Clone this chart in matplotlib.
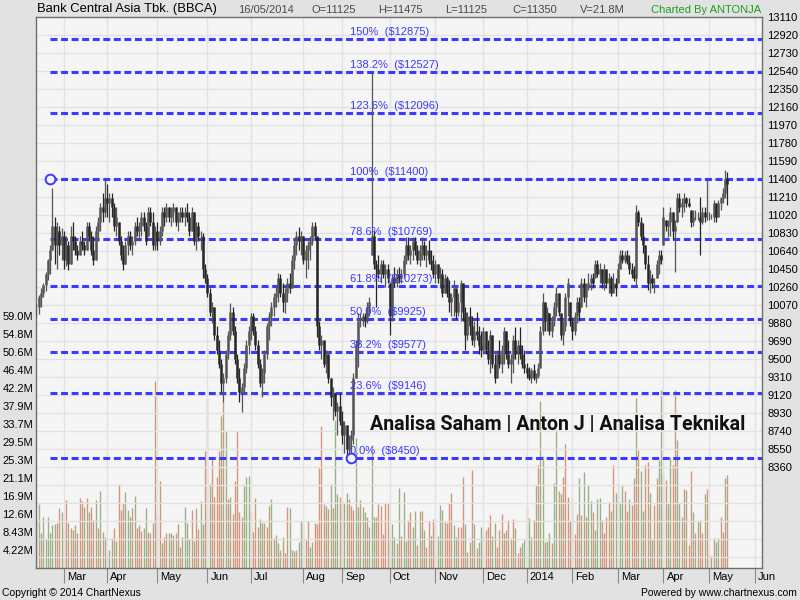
import numpy as np
import matplotlib.pyplot as plt

plt.rcParams['font.family'] = ['Liberation Sans', 'DejaVu Sans']
plt.rcParams['lines.scale_dashes'] = False

# daily bars, 13 Feb 2013 .. 16 May 2014 (trading-day index)
lows = [
    9950, 9980, 10050, 10150, 10220, 10330, 10400, 10650, 10500, 10450, 10600, 10550,
    10450, 10480, 10440, 10500, 10650, 10600, 10550, 10600, 10650, 10600, 10650, 10750, 10600, 10490, 10550, 10750, 10850, 10950, 11000,
    11000, 10950, 11000, 10850, 10800, 10700, 10550, 10440, 10500, 10600, 10650, 10600, 10700, 10800, 10750, 10800, 10850, 10700, 10800, 10900, 10650, 10650,
    10650, 10700, 10800, 10900, 10950, 10950, 10900, 10950, 10900, 10850, 10950, 10950, 10900, 10950, 10800, 10850, 10700, 10650, 10750, 10650, 10350, 10300,
    10150, 9950, 9880, 9700, 9550, 9400, 9150, 9050, 9250, 9500, 9700, 9750, 9450, 9250, 9050, 8940, 9150, 9350, 9550,
    9700, 9750, 9600, 9400, 9200, 9100, 9250, 9500, 9700, 9850, 9950, 10050, 10100, 10150, 10000, 9990, 10100, 10200, 10250, 10450, 10600, 10650, 10600,
    10500, 10350, 10450, 10550, 10700, 10760, 9730, 9600, 9500, 9420, 9350, 9250, 9000, 8855, 8900, 8700, 8800,
    8600, 8510, 8450, 8480, 8450, 8600, 9300, 9420, 9840, 9850, 9840, 9880, 9950, 10600, 10450, 10050, 10350, 10300, 10350, 10260, 10300,
    9750, 9900, 10260, 10260, 10300, 10300, 10350, 10500, 10550, 10500, 10550, 10600, 10500, 10480, 10550, 10550, 10470, 10500, 10440, 10350,
    10300, 10300, 10250, 10150, 10200, 10150, 10000, 9950, 9950, 9920, 9950, 9900, 9900, 9600, 9700, 9750, 9650, 9630, 9700, 9550, 9520,
    9550, 9550, 9450, 9350, 9400, 9250, 9300, 9400, 9350, 9450, 9500, 9400, 9250, 9350, 9500, 9450, 9500, 9400, 9350,
    9300, 9280, 9250, 9280, 9250, 9300, 9400, 9750, 9800, 9800, 9750, 9730, 9850, 9950, 9950, 9700, 9650, 9800, 9950, 9850,
    9700, 9750, 9880, 9900, 10050, 10100, 10050, 10230, 10230, 10250, 10350, 10365, 10300, 10250, 10230, 10250, 10200, 10160, 10200, 10160,
    10300, 10450, 10510, 10510, 10500, 10400, 10350, 10320, 10260, 10900, 10760, 10620, 10450, 10230, 10200, 10250, 10200, 10350, 10400, 10500,
    10700, 10850, 10790, 10800, 10760, 10420, 10950, 11050, 11000, 11050, 11100, 11100, 10890, 10900, 10970, 10970, 10600, 10930, 10950, 10970,
    10970, 10980, 10950, 10950, 11000, 11070, 11150, 11200, 11125,
]
highs = [
    10080, 10180, 10250, 10300, 10420, 10560, 10700, 11300, 11000, 10950, 10900, 10880,
    10850, 10800, 10750, 10900, 10950, 10800, 10700, 10800, 10850, 10750, 10950, 10950, 10850, 10800, 10900, 11000, 11150, 11250, 11400,
    11350, 11250, 11250, 11150, 11100, 10950, 10800, 10700, 10750, 10850, 10850, 10800, 10950, 11000, 10950, 11050, 11050, 10950, 11100, 11100, 11050, 10900,
    10950, 10900, 11100, 11100, 11150, 11100, 11100, 11150, 11100, 11050, 11100, 11100, 11100, 11150, 11050, 11100, 11050, 10950, 10950, 10850, 10830, 10500,
    10400, 10250, 10100, 10050, 9850, 9700, 9500, 9350, 9600, 9800, 10090, 10050, 9850, 9550, 9400, 9250, 9460, 9700, 9850,
    9990, 9990, 9850, 9700, 9500, 9400, 9600, 9880, 10000, 10100, 10200, 10260, 10410, 10400, 10300, 10250, 10350, 10410, 10600, 10760, 10850, 10895, 10850,
    10800, 10700, 10750, 10800, 10950, 10950, 10800, 9900, 9750, 9700, 9600, 9550, 9300, 9200, 9140, 9050, 9140,
    8950, 8850, 8800, 8700, 8750, 9350, 9700, 9985, 9985, 9985, 9990, 10100, 10150, 12527, 10850, 10550, 10600, 10550, 10550, 10500, 10500,
    10300, 10400, 10470, 10450, 10470, 10450, 10600, 10790, 10790, 10700, 10790, 10790, 10700, 10700, 10790, 10750, 10700, 10760, 10650, 10600,
    10550, 10500, 10470, 10450, 10400, 10380, 10330, 10200, 10330, 10250, 10200, 10330, 10300, 10050, 10000, 10050, 9950, 9900, 10000, 9850, 9800,
    9840, 9800, 9700, 9810, 9750, 9550, 9600, 9700, 9650, 9840, 9800, 9700, 9550, 9750, 9840, 9700, 9840, 9650, 9600,
    9460, 9420, 9400, 9450, 9350, 9460, 9850, 10200, 10100, 10050, 9990, 9950, 10100, 10260, 10200, 9990, 9900, 10200, 10360, 10100,
    9940, 10000, 10150, 10150, 10360, 10360, 10300, 10410, 10400, 10410, 10550, 10545, 10510, 10450, 10500, 10450, 10410, 10380, 10410, 10350,
    10510, 10650, 10650, 10640, 10650, 10600, 10510, 10480, 11125, 11070, 11000, 10940, 10700, 10600, 10440, 10400, 10350, 10550, 10650, 10650,
    11100, 10970, 10970, 11100, 11050, 10970, 11250, 11250, 11200, 11250, 11210, 11200, 11070, 11070, 11070, 11050, 11210, 11100, 11100, 11390,
    11050, 11030, 11180, 11150, 11180, 11210, 11300, 11495, 11475,
]
closes = [
    10050, 10150, 10200, 10280, 10400, 10540, 10650, 10900, 10700, 10850, 10700, 10800,
    10550, 10700, 10500, 10800, 10750, 10650, 10600, 10750, 10700, 10650, 10900, 10800, 10650, 10550, 10850, 10950, 11100, 11050, 11200,
    11150, 11200, 11100, 10900, 11000, 10750, 10600, 10500, 10700, 10800, 10700, 10750, 10900, 10850, 10900, 11000, 10900, 10750, 11050, 10950, 10700, 10850,
    10750, 10850, 11050, 11000, 11100, 11000, 11050, 11100, 10950, 11000, 11050, 11000, 11050, 11000, 10850, 11050, 10750, 10900, 10800, 10800, 10450, 10350,
    10200, 10000, 10050, 9750, 9600, 9450, 9250, 9300, 9550, 9750, 10000, 9800, 9500, 9300, 9150, 9200, 9400, 9650, 9800,
    9950, 9800, 9650, 9450, 9250, 9350, 9550, 9850, 9950, 10050, 10150, 10200, 10350, 10200, 10100, 10200, 10300, 10250, 10550, 10700, 10800, 10750, 10800,
    10550, 10650, 10700, 10750, 10900, 10800, 9850, 9650, 9700, 9450, 9550, 9300, 9100, 9150, 8950, 9000, 8850,
    8700, 8800, 8550, 8650, 8700, 9300, 9650, 9900, 9900, 9950, 9900, 10050, 10100, 10800, 10500, 10450, 10400, 10500, 10400, 10450, 10350,
    9950, 10350, 10300, 10400, 10350, 10400, 10550, 10700, 10600, 10650, 10750, 10650, 10550, 10650, 10700, 10600, 10650, 10550, 10500, 10400,
    10500, 10350, 10400, 10200, 10350, 10200, 10100, 10150, 10250, 10000, 10100, 10300, 10000, 9750, 9950, 9850, 9700, 9800, 9750, 9650, 9600,
    9800, 9600, 9500, 9750, 9450, 9300, 9550, 9450, 9600, 9800, 9550, 9450, 9500, 9700, 9550, 9650, 9550, 9450, 9400,
    9350, 9300, 9380, 9300, 9320, 9400, 9800, 10100, 9900, 10000, 9800, 9900, 10050, 10200, 10000, 9750, 9850, 10150, 10300, 9900,
    9800, 9950, 10100, 10000, 10300, 10150, 10250, 10300, 10350, 10300, 10500, 10400, 10450, 10300, 10450, 10300, 10350, 10200, 10300, 10250,
    10450, 10600, 10550, 10600, 10520, 10450, 10400, 10350, 11050, 10950, 10800, 10700, 10500, 10300, 10350, 10300, 10300, 10500, 10600, 10550,
    11000, 10900, 10950, 11050, 10850, 10900, 11200, 11100, 11150, 11200, 11150, 11120, 10950, 11000, 11000, 11000, 10950, 11050, 11000, 11000,
    11000, 11000, 11150, 11000, 11150, 11200, 11250, 11400, 11350,
]
# volume in millions, r = down day, g = up day
volumes = [
    11.1, 15.0, 8.1, 11.9, 6.7, 11.9, 8.1, 10.1, 10.3, 10.6, 14.1, 13.0, 9.7, 15.9, 10.6, 9.3, 8.9, 10.1, 8.1, 16.5,
    15.8, 14.2, 16.3, 13.0, 14.4, 11.2, 16.0, 9.3, 18.1, 8.4, 7.3, 2.8, 4.2, 7.0, 9.3, 6.4, 19.7, 13.6, 15.3, 17.9,
    13.6, 12.0, 14.1, 16.9, 9.3, 10.1, 8.7, 9.3, 14.0, 8.5, 8.1, 10.6, 43.8, 12.7, 20.4, 5.9, 7.3, 8.3, 8.1, 8.3,
    7.7, 8.3, 10.3, 5.0, 7.2, 14.4, 10.6, 6.8, 13.6, 6.4, 14.0, 9.1, 15.7, 10.3, 27.3, 39.9, 19.7, 25.5, 16.6, 21.3,
    27.3, 35.5, 38.8, 32.0, 16.2, 16.6, 12.7, 20.4, 32.1, 13.2, 12.0, 19.2, 21.3, 21.6, 13.4, 8.5, 16.5, 9.7, 11.4, 10.5,
    10.6, 9.7, 14.5, 16.1, 7.0, 7.7, 5.8, 4.2, 7.3, 3.6, 14.4, 14.0, 4.1, 4.0, 4.1, 6.2, 11.1, 10.3, 6.6, 11.1,
    5.0, 6.2, 10.5, 10.3, 23.5, 33.3, 14.9, 14.5, 13.8, 19.7, 14.0, 34.7, 17.3, 16.6, 15.8, 15.3, 17.5, 16.2, 14.5, 13.6,
    30.4, 14.4, 15.9, 14.4, 13.0, 12.0, 9.7, 28.7, 12.0, 12.0, 14.9, 14.5, 8.0, 15.3, 15.2, 6.6, 10.3, 7.3, 5.8,
    18.7, 7.6, 17.7, 6.4, 11.3, 13.0, 9.7, 13.4, 5.4, 13.4, 13.4, 8.9, 5.0, 11.0, 7.6, 11.5, 10.1, 7.5, 14.8, 13.6,
    10.7, 10.5, 15.3, 17.5, 10.1, 7.3, 9.7, 9.7, 21.2, 10.2, 3.8, 6.2, 23.0, 10.3, 4.8, 6.0, 9.7, 7.7, 8.9, 9.7,
    12.4, 7.6, 10.5, 5.0, 8.9, 12.7, 8.1, 8.9, 11.3, 7.1, 11.5, 9.3, 3.4, 5.0, 5.9, 6.6, 14.4, 11.6, 7.3, 11.3,
    19.5, 24.1, 39.1, 26.3, 6.2, 6.4, 8.1, 5.8, 20.0, 32.3, 18.0, 17.3, 21.4, 29.1, 16.6, 10.9, 16.7, 7.9, 12.7, 21.0,
    12.3, 22.5, 12.0, 19.5, 15.7, 13.0, 8.9, 16.1, 16.5, 11.3, 8.3, 12.0, 15.5, 13.4, 24.1, 17.5, 19.5, 15.3, 19.2, 18.1,
    13.4, 16.2, 14.8, 21.0, 39.9, 27.7, 22.6, 13.4, 24.1, 24.9, 17.5, 6.6, 14.8, 21.0, 25.3, 41.7, 22.0, 20.6, 15.2, 25.9,
    24.1, 41.7, 30.0, 15.3, 12.0, 18.4, 18.3, 5.4, 22.8, 13.2, 8.1, 10.9, 11.3, 8.1, 17.3, 18.4, 3.2, 2.7, 7.1, 6.2,
    7.0, 12.0, 8.4, 21.0, 21.8,
]
vol_dir = (
    "rgrggggggr" "rgrrrgrgrr" "rgrgrrgrgr" "grggrgrrrg" "ggrgrrrggr" "rgrrrgrrgg" "rgrrggggrg" "rrggrrgrrr"
    "rgrgrgrrrr" "rggggrrrgg" "rrrgrggrgr" "rggrrgggrr" "ggrrrrrgrg" "rggrgggrrr" "ggrggrgggr" "rrrrrgggr"
    "grggrrggrg" "rgrrgrrggg" "rrrrggrrrg" "rgrgrggrrr" "rggrrrgrrg" "rgrrggrggr" "grggrggrgg" "rgrrrrgrrg"
    "rgrggrgggr" "rrrgrggggr" "rgrrgrggrr" "ggrrggrrgg" "rrggrrgrrg" "rgrrgrrgrg" "grrgr"
)
assert len(lows) == len(highs) == len(closes) == len(volumes) == len(vol_dir)

month_start = [12, 31, 53, 75, 94, 117, 134, 155, 175, 196, 215, 235, 255, 275, 295, 315]
month_labels = ['Mar', 'Apr', 'May', 'Jun', 'Jul', 'Aug', 'Sep', 'Oct', 'Nov', 'Dec',
                '2014', 'Feb', 'Mar', 'Apr', 'May', 'Jun']

fib_pct = ['150%', '138.2%', '123.6%', '100%', '78.6%', '61.8%', '50.0%', '38.2%', '23.6%', '0.0%']
fib_val = [12875, 12527, 12096, 11400, 10769, 10273, 9925, 9577, 9146, 8450]
fib_high_bar = 6
fib_low_bar = 138

price_top = 13110
price_step = 190
vol_step = 4.2155
header = ['16/05/2014', 'O=11125', 'H=11475', 'L=11125', 'C=11350', 'V=21.8M']

# ---------------------------------------------------------------
W, H = 800, 600
L, R, T, B = 36, 762, 17, 568
fig = plt.figure(figsize=(8, 6), dpi=100, facecolor='#e2e2e2')
pos = [L / W, 1 - B / H, (R - L) / W, (B - T) / H]
axv = fig.add_axes(pos, facecolor='#f5f5f5')
ax = fig.add_axes(pos, facecolor='none', sharex=axv)

n = len(closes)
x = np.arange(n)
lo = np.array(lows, float)
hi = np.array(highs, float)
cl = np.array(closes, float)
op = np.clip(np.r_[cl[0], cl[:-1]], lo, hi)

# volume
vol = np.array(volumes)
vcol = ['#d4957d' if d == 'r' else '#9ab187' for d in vol_dir]
axv.vlines(x, 0, vol, colors=vcol, lw=1.0)
vtop = (B - T) / 18 * vol_step
axv.set_ylim(0, vtop)
vt = [vol_step * k for k in range(1, 15)]
axv.set_yticks(vt)
axv.set_yticklabels([f'{v:.2f}M' if v < 10 else f'{v:.1f}M' for v in vt], fontsize=8)
axv.tick_params(axis='y', length=0, pad=2)
axv.tick_params(axis='x', length=0, labelbottom=False)
for s in axv.spines.values():
    s.set_visible(False)

# price axis
pbot = price_top - (B - T) / 18 * price_step
ax.set_ylim(pbot, price_top)
ax.set_xlim(-0.2, 318.2)
pt = np.arange(price_top, pbot, -price_step)
ax.set_yticks(pt)
ax.set_yticklabels([str(int(p)) if p >= 8360 else '' for p in pt], fontsize=8)
ax.yaxis.tick_right()
ax.tick_params(axis='y', length=0, pad=4)
ax.set_xticks(month_start)
ax.tick_params(axis='x', length=11, width=0.8, color='#8a8a8a', labelbottom=False)
ax.grid(True, color='#e2e2e2', lw=1)
ax.set_axisbelow(True)
for s in ax.spines.values():
    s.set_color('#6e6e6e')
    s.set_linewidth(1)

for m, lab in zip(month_start, month_labels):
    ax.annotate(lab, xy=(m, 0), xycoords=('data', 'axes fraction'), xytext=(3, -9),
                textcoords='offset pixels', ha='left', va='center', fontsize=8,
                annotation_clip=False)

# fibonacci levels
blue = '#3b3bff'
for p, v in zip(fib_pct, fib_val):
    ax.plot([fib_high_bar, 318.2], [v, v], color=blue, lw=2.2, dashes=(5.0, 2.6),
            zorder=2, solid_capstyle='butt', dash_capstyle='butt')
    ax.annotate(f'{p}  (${v})', xy=(fib_low_bar - 0.5, v), xytext=(0, 2),
                textcoords='offset pixels', ha='left', va='bottom', fontsize=8,
                color=blue, zorder=6)
ax.plot(fib_high_bar, fib_val[3], 'o', ms=7, mfc='#f5f5f5', mec=blue, mew=1.4, zorder=7)
ax.plot(fib_low_bar, fib_val[-1], 'o', ms=7, mfc='#f5f5f5', mec=blue, mew=1.4, zorder=7)

# candles
ccol = ['#555555' if c >= o else '#262626' for o, c in zip(op, cl)]
ax.vlines(x, lo, hi, colors=ccol, lw=0.9, zorder=4)
ax.vlines(x, op, cl, colors=ccol, lw=1.8, zorder=4)

# header / footer
def ftext(px, py, s, **kw):
    return fig.text(px / W, 1 - py / H, s, va='center', **kw)

ftext(37, 9, 'Bank Central Asia Tbk. (BBCA)', fontsize=9.4)
for px, s in zip([238, 312, 378, 445, 512, 580], header):
    ftext(px, 10, s, fontsize=8, color='#4a4a4a')
ftext(761, 10, 'Charted By ANTONJA', fontsize=8, color='#1aa01a', ha='right')
ftext(2, 593, 'Copyright \u00a9 2014 ChartNexus', fontsize=7.5)
ftext(797, 593, 'Powered by www.chartnexus.com', fontsize=7.5, ha='right')

wm = ftext(370, 424, 'Analisa Saham | Anton J | Analisa Teknikal', fontsize=13,
           fontweight='bold', family=['Roboto', 'DejaVu Sans'], color='#111111', zorder=10)
r = fig.canvas.get_renderer()
wm.set_fontsize(13 * 376 / wm.get_window_extent(r).width)

fig.savefig('out.png', dpi=100, facecolor=fig.get_facecolor())
